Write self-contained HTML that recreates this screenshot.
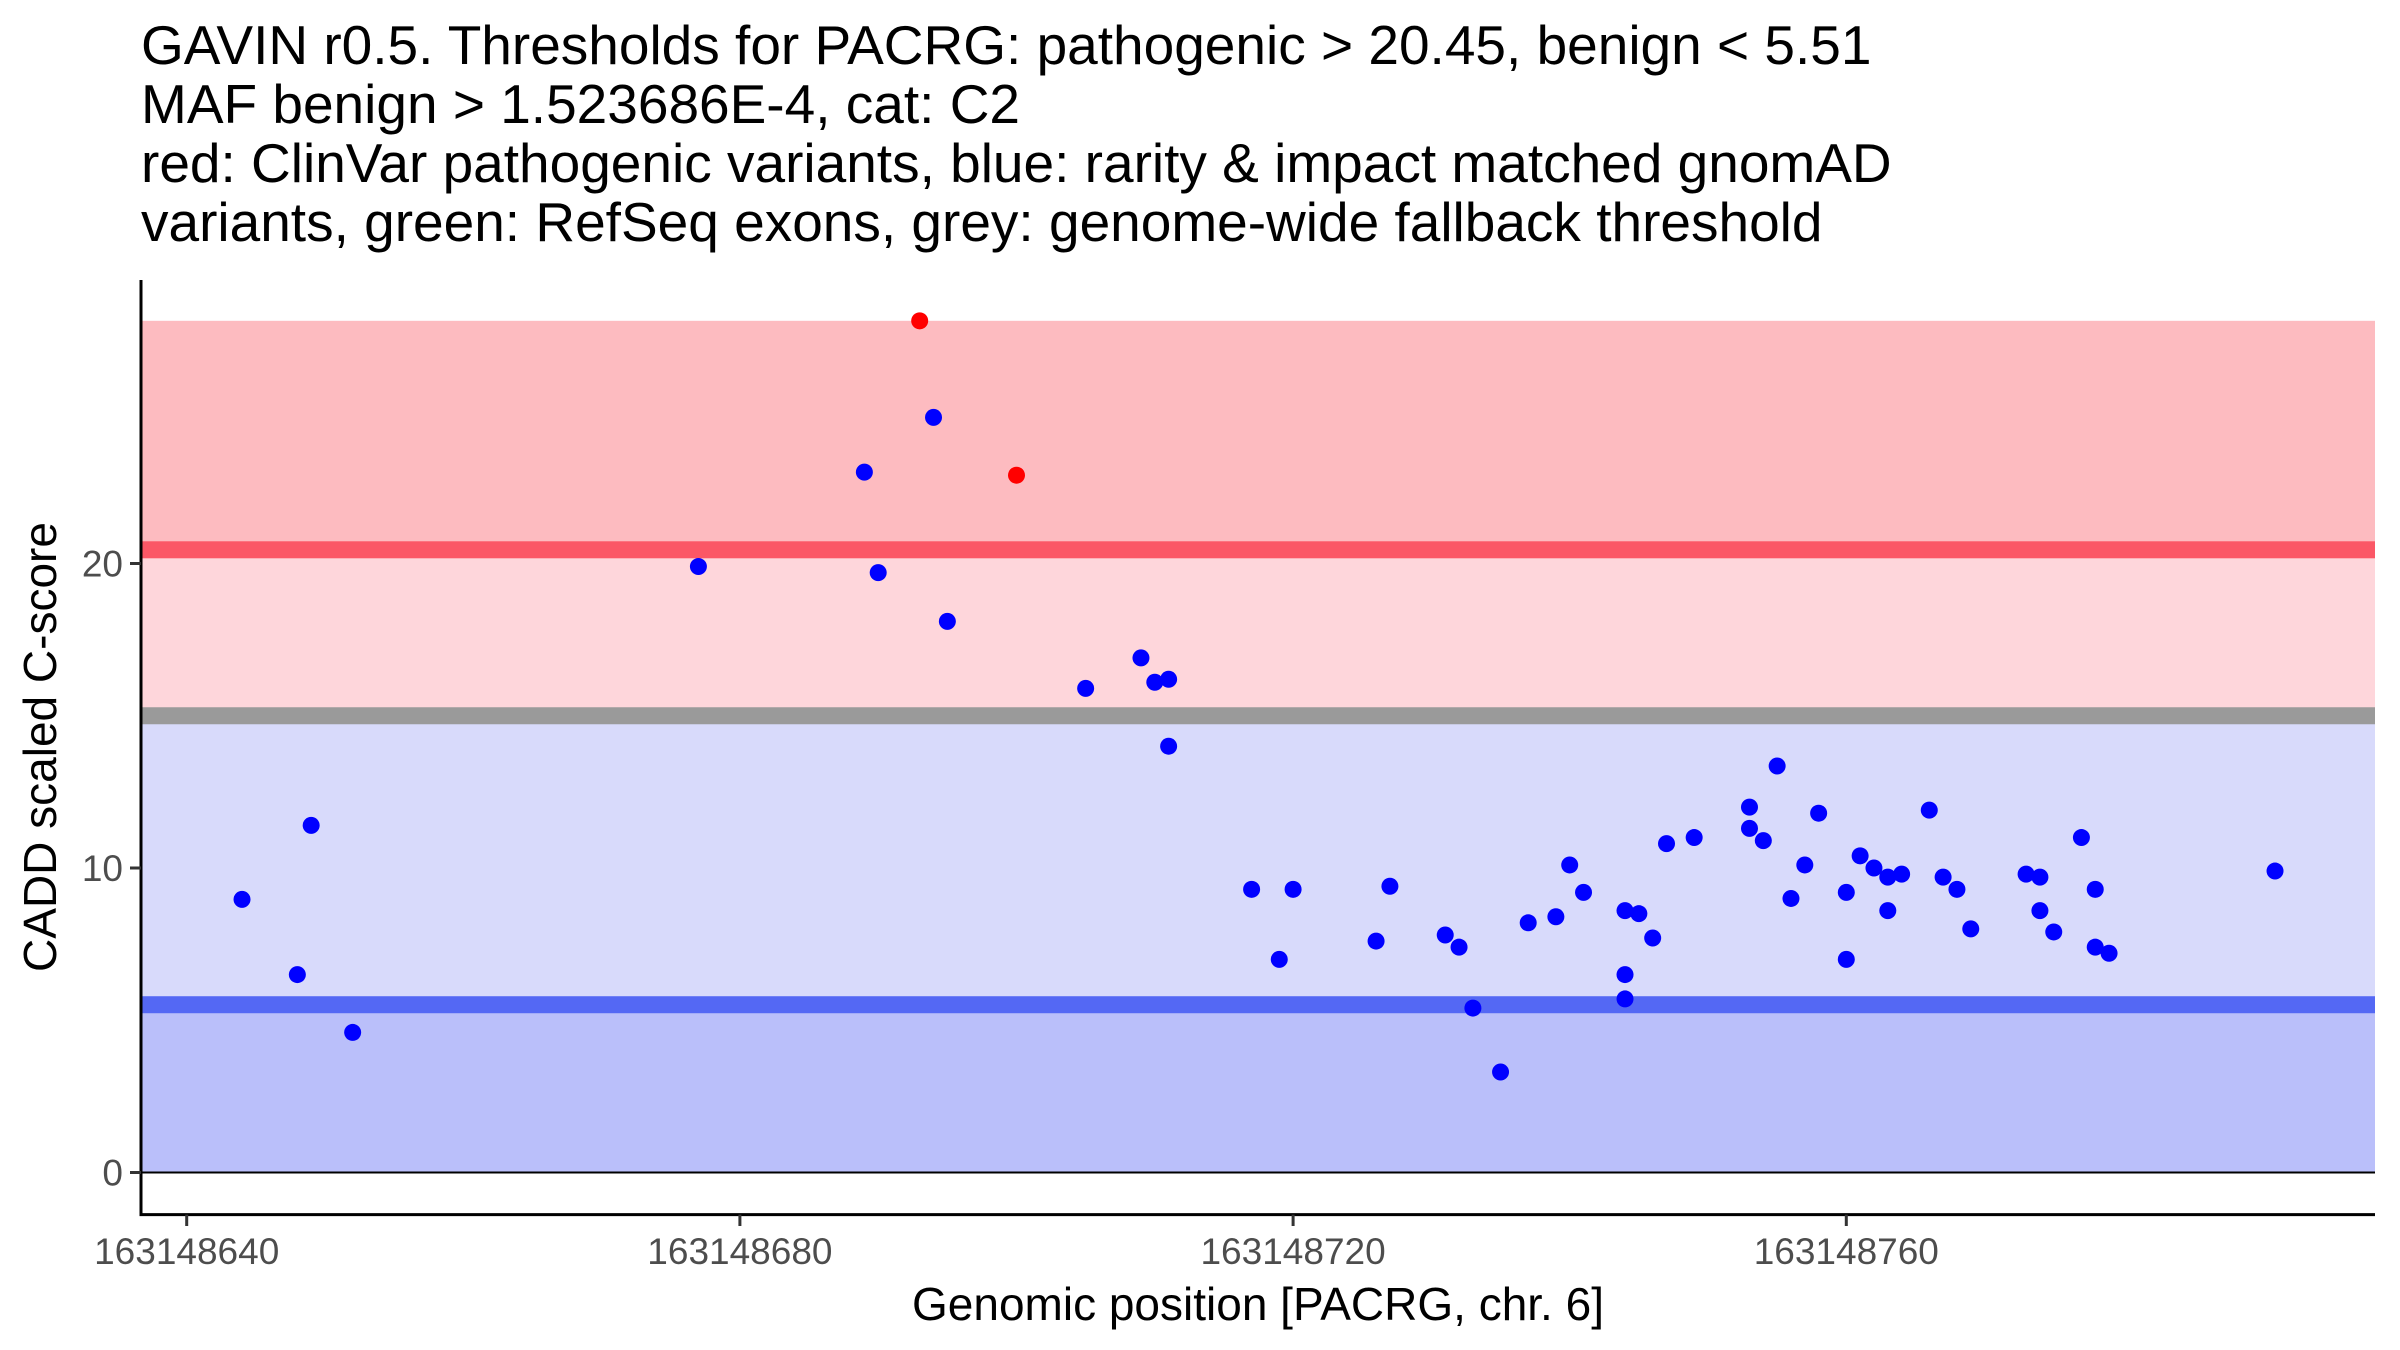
<!DOCTYPE html>
<html><head><meta charset="utf-8"><style>
html,body{margin:0;padding:0;background:#fff;}
svg{display:block;font-family:"Liberation Sans",Arial,sans-serif;}
</style></head><body>
<svg id="chart" width="2400" height="1350" viewBox="0 0 2400 1350" xmlns="http://www.w3.org/2000/svg">
<g font-size="55" fill="#000">
<text x="141" y="64">GAVIN r0.5. Thresholds for PACRG: pathogenic &gt; 20.45, benign &lt; 5.51</text>
<text x="141" y="123">MAF benign &gt; 1.523686E-4, cat: C2</text>
<text x="141" y="182">red: ClinVar pathogenic variants, blue: rarity &amp; impact matched gnomAD</text>
<text x="141" y="241">variants, green: RefSeq exons, grey: genome-wide fallback threshold</text>
</g>
<g id="bands"></g>
<g id="pts"></g>
<g id="axes"></g>
<text x="1258" y="1320" font-size="46" text-anchor="middle" fill="#000">Genomic position [PACRG, chr. 6]</text>
<text transform="translate(56,747) rotate(-90)" font-size="46" text-anchor="middle" fill="#000">CADD scaled C-score</text>
</svg>
<script>
const base = 163148640;
const benignPos = [644,648,649,652,677,689,690,694,695,705,709,710,711,711,717,719,720,726,727,731,732,733,735,737,739,740,741,744,745,746,744,744,747,749,753,753,754,755,756,757,758,760,760,761,762,763,763,764,766,767,768,769,773,774,774,775,777,778,778,779,791];
const benignScore = [8.97,6.5,11.4,4.6,19.9,23.0,19.7,24.8,18.1,15.9,16.9,16.1,16.2,14.0,9.3,7.0,9.3,7.6,9.4,7.8,7.4,5.4,3.3,8.2,8.4,10.1,9.2,8.6,8.5,7.7,6.5,5.7,10.8,11.0,12.0,11.3,10.9,13.35,9.0,10.1,11.8,9.2,7.0,10.4,10.0,8.6,9.7,9.8,11.9,9.7,9.3,8.0,9.8,9.7,8.6,7.9,11.0,9.3,7.4,7.2,9.9];
const pathoPos = [693,700];
const pathoScore = [27.97,22.9];
const thresholds = [20.45, 15.0, 5.51];
const yTicks = [0,10,20];
const xTicks = [640,680,720,760];

const NS="http://www.w3.org/2000/svg";
const X0=141, X1=2375;
const xs = p => 186.7 + 13.83*(p-640);
const ys = v => 1172.5 - 30.45*v;
function mk(tag, attrs, parent){const e=document.createElementNS(NS,tag);for(const k in attrs)e.setAttribute(k,attrs[k]);parent.appendChild(e);return e;}
const bands=document.getElementById('bands'), pts=document.getElementById('pts'), axes=document.getElementById('axes');
const maxV = Math.max(...pathoScore, ...benignScore);
let r;
r=mk('rect',{x:X0,y:ys(maxV),width:X1-X0,height:ys(thresholds[0])-ys(maxV),fill:'#fdbbc0'},bands);


r=mk('rect',{x:X0,y:ys(thresholds[0]),width:X1-X0,height:ys(thresholds[1])-ys(thresholds[0]),fill:'#fed6db'},bands);


r=mk('rect',{x:X0,y:ys(thresholds[1]),width:X1-X0,height:ys(thresholds[2])-ys(thresholds[1]),fill:'#d8dafb'},bands);


r=mk('rect',{x:X0,y:ys(thresholds[2]),width:X1-X0,height:ys(0)-ys(thresholds[2]),fill:'#babffa'},bands);


r=mk('rect',{x:X0,y:ys(thresholds[0])-8.5,width:X1-X0,height:17,fill:'#fb5766'},bands);


r=mk('rect',{x:X0,y:ys(thresholds[1])-8.5,width:X1-X0,height:17,fill:'#9a9a9a'},bands);


r=mk('rect',{x:X0,y:ys(thresholds[2])-8.5,width:X1-X0,height:17,fill:'#5468f4'},bands);


r=mk('line',{x1:X0,x2:X1,y1:ys(0),y2:ys(0),stroke:'#000','stroke-width':2},bands);


benignPos.forEach((p,i)=>{
  const c=mk('circle',{cx:xs(p),cy:ys(benignScore[i]),r:8.5,fill:'#0000ff'},pts);
  
  
});
pathoPos.forEach((p,i)=>{
  const c=mk('circle',{cx:xs(p),cy:ys(pathoScore[i]),r:8.5,fill:'#ff0000'},pts);
  
  
});
let a=mk('line',{x1:X0,x2:X0,y1:280,y2:1216,stroke:'#000','stroke-width':3},axes);


a=mk('line',{x1:X0-1.5,x2:X1,y1:1214.6,y2:1214.6,stroke:'#000','stroke-width':3},axes);


yTicks.forEach(v=>{
  const t=mk('line',{x1:X0-11,x2:X0,y1:ys(v),y2:ys(v),stroke:'#333','stroke-width':3},axes);
  
  
  const l=mk('text',{x:X0-18,y:ys(v)+13,'font-size':37,fill:'#4d4d4d','text-anchor':'end'},axes);
  l.textContent=v;
  
  
});
xTicks.forEach(p=>{
  const t=mk('line',{x1:xs(p),x2:xs(p),y1:1214.6,y2:1226,stroke:'#333','stroke-width':3},axes);
  
  
  const l=mk('text',{x:xs(p),y:1264,'font-size':37,fill:'#4d4d4d','text-anchor':'middle'},axes);
  l.textContent=String(base+p-640);
  
  
});
</script>
</body></html>
